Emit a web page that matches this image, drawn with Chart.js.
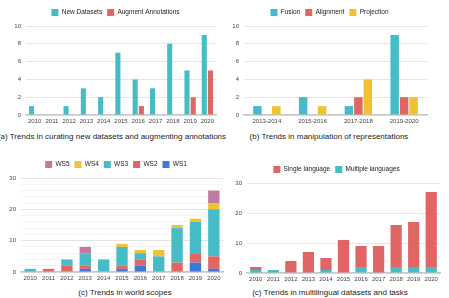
<!DOCTYPE html>
<html><head><meta charset="utf-8">
<script src="https://cdn.jsdelivr.net/npm/chart.js@4"></script>
<style>
html,body{margin:0;padding:0;background:#fff;width:449px;height:298px;overflow:hidden;position:relative;font-family:"Liberation Sans",Arial,sans-serif;}
.box{position:absolute;}
.cap{position:absolute;font-size:8px;color:#222;white-space:nowrap;text-align:center;}
</style></head><body>
<div class="box" style="left:0;top:0;width:225px;height:128px"><canvas id="ca"></canvas></div>
<div class="box" style="left:225px;top:0;width:224px;height:128px"><canvas id="cb"></canvas></div>
<div class="box" style="left:0;top:150px;width:225px;height:135px"><canvas id="cc"></canvas></div>
<div class="box" style="left:225px;top:150px;width:224px;height:135px"><canvas id="cd"></canvas></div>
<div class="cap" style="left:-3px;top:132px;width:230px">(a) Trends in curating new datasets and augmenting annotations</div>
<div class="cap" style="left:239px;top:132px;width:180px">(b) Trends in manipulation of representations</div>
<div class="cap" style="left:20px;top:288px;width:210px">(c) Trends in world scopes</div>
<div class="cap" style="left:240px;top:288px;width:180px">(c) Trends in multilingual datasets and tasks</div>
<script>
// ---- data ----
const years = ['2010','2011','2012','2013','2014','2015','2016','2017','2018','2019','2020'];
const newDatasets = [1,0,1,3,2,7,4,3,8,5,9];
const augmentAnnotations = [0,0,0,0,0,0,1,0,0,2,5];
const periods = ['2013-2014','2015-2016','2017-2018','2019-2020'];
const fusion = [1,2,1,9];
const alignment = [0,0,2,2];
const projection = [1,1,4,2];
const ws1 = [0,0,0,1,0,1,2,0,0,3,1];
const ws2 = [0,1,2,1,0,1,2,0,3,3,4];
const ws3 = [1,0,2,4,4,6,2,5,11,10,15];
const ws4 = [0,0,0,0,0,1,1,2,1,1,2];
const ws5 = [0,0,0,2,0,0,0,0,0,0,4];
const singleLanguage = [1,0,4,7,4,11,7,9,14,15,25];
const multipleLanguages = [1,1,0,0,1,0,2,0,2,2,2];
const ticksC = [0,10,20,30];

const TEAL='#46BDC6', RED='#E06666', YEL='#F1C232', BLUE='#3C78D8', PINK='#C27BA0';
Chart.defaults.font.family = '"Liberation Sans", Arial, sans-serif';
Chart.defaults.font.size = 6;
Chart.defaults.color = '#444';
Chart.defaults.animation = false;

function opts(cfg){
  return {
    responsive:true, maintainAspectRatio:false, animation:false,
    layout:{padding:{left:cfg.padL||0,right:cfg.padR,top:cfg.padT||0,bottom:0}},
    plugins:{
      legend:{position:'top',
        labels:{boxWidth:7,boxHeight:7,padding:cfg.legPad,font:{size:6.5},color:'#222',
          sort: cfg.rev ? ((a,b)=>b.datasetIndex-a.datasetIndex) : undefined}},
      tooltip:{enabled:false}
    },
    scales:{
      x:{stacked:!!cfg.stacked, grid:{display:false, drawTicks:false},
         border:{color:'#c8c8c8', width:1.5},
         ticks:{padding:3, maxRotation:0, autoSkip:false, font:{size:6}},
         afterFit:s=>{s.height=cfg.xH;}},
      y:{stacked:!!cfg.stacked, min:0, max:cfg.max,
         grid:{color:cfg.gridColor||'#e6e6e6', drawTicks:false},
         border:{display:false},
         ticks:{stepSize:cfg.step, autoSkip:false, padding:5, font:{size:6}, callback:cfg.cb||(v=>v)},
         afterFit:s=>{s.width=cfg.yW;}}
    }
  };
}

new Chart(document.getElementById('ca'),{type:'bar',
  data:{labels:years,datasets:[
    {label:'New Datasets',data:newDatasets,backgroundColor:TEAL,categoryPercentage:0.72,barPercentage:0.82},
    {label:'Augment Annotations',data:augmentAnnotations,backgroundColor:RED,categoryPercentage:0.72,barPercentage:0.82}]},
  options:opts({padL:15,padR:9,padT:4,legPad:5,xH:13,yW:11,max:10,step:2})});

new Chart(document.getElementById('cb'),{type:'bar',
  data:{labels:periods,datasets:[
    {label:'Fusion',data:fusion,backgroundColor:TEAL,categoryPercentage:0.62,barPercentage:0.9},
    {label:'Alignment',data:alignment,backgroundColor:RED,categoryPercentage:0.62,barPercentage:0.9},
    {label:'Projection',data:projection,backgroundColor:YEL,categoryPercentage:0.62,barPercentage:0.9}]},
  options:opts({padL:7,padR:22,padT:4,legPad:5,xH:13,yW:12,max:10,step:2})});

new Chart(document.getElementById('cc'),{type:'bar',
  data:{labels:years,datasets:[
    {label:'WS1',data:ws1,backgroundColor:BLUE,categoryPercentage:0.62,barPercentage:1},
    {label:'WS2',data:ws2,backgroundColor:RED,categoryPercentage:0.62,barPercentage:1},
    {label:'WS3',data:ws3,backgroundColor:TEAL,categoryPercentage:0.62,barPercentage:1},
    {label:'WS4',data:ws4,backgroundColor:YEL,categoryPercentage:0.62,barPercentage:1},
    {label:'WS5',data:ws5,backgroundColor:PINK,categoryPercentage:0.62,barPercentage:1}]},
  options:opts({padL:9,padR:2,legPad:5,padT:6,xH:13,yW:12,max:30,step:2,stacked:true,rev:true,
    gridColor:c=>(c.tick && c.tick.value%10===0)?'#e3e3e3':'#f4f4f4',
    cb:v=>ticksC.includes(v)?v:''})});

new Chart(document.getElementById('cd'),{type:'bar',
  data:{labels:years,datasets:[
    {label:'Multiple languages',data:multipleLanguages,backgroundColor:TEAL,categoryPercentage:0.64,barPercentage:1},
    {label:'Single language',data:singleLanguage,backgroundColor:RED,categoryPercentage:0.64,barPercentage:1}]},
  options:opts({padL:8,padR:9,legPad:5,padT:11,xH:12,yW:14,max:30,step:10,stacked:true,rev:true})});
</script>
</body></html>
